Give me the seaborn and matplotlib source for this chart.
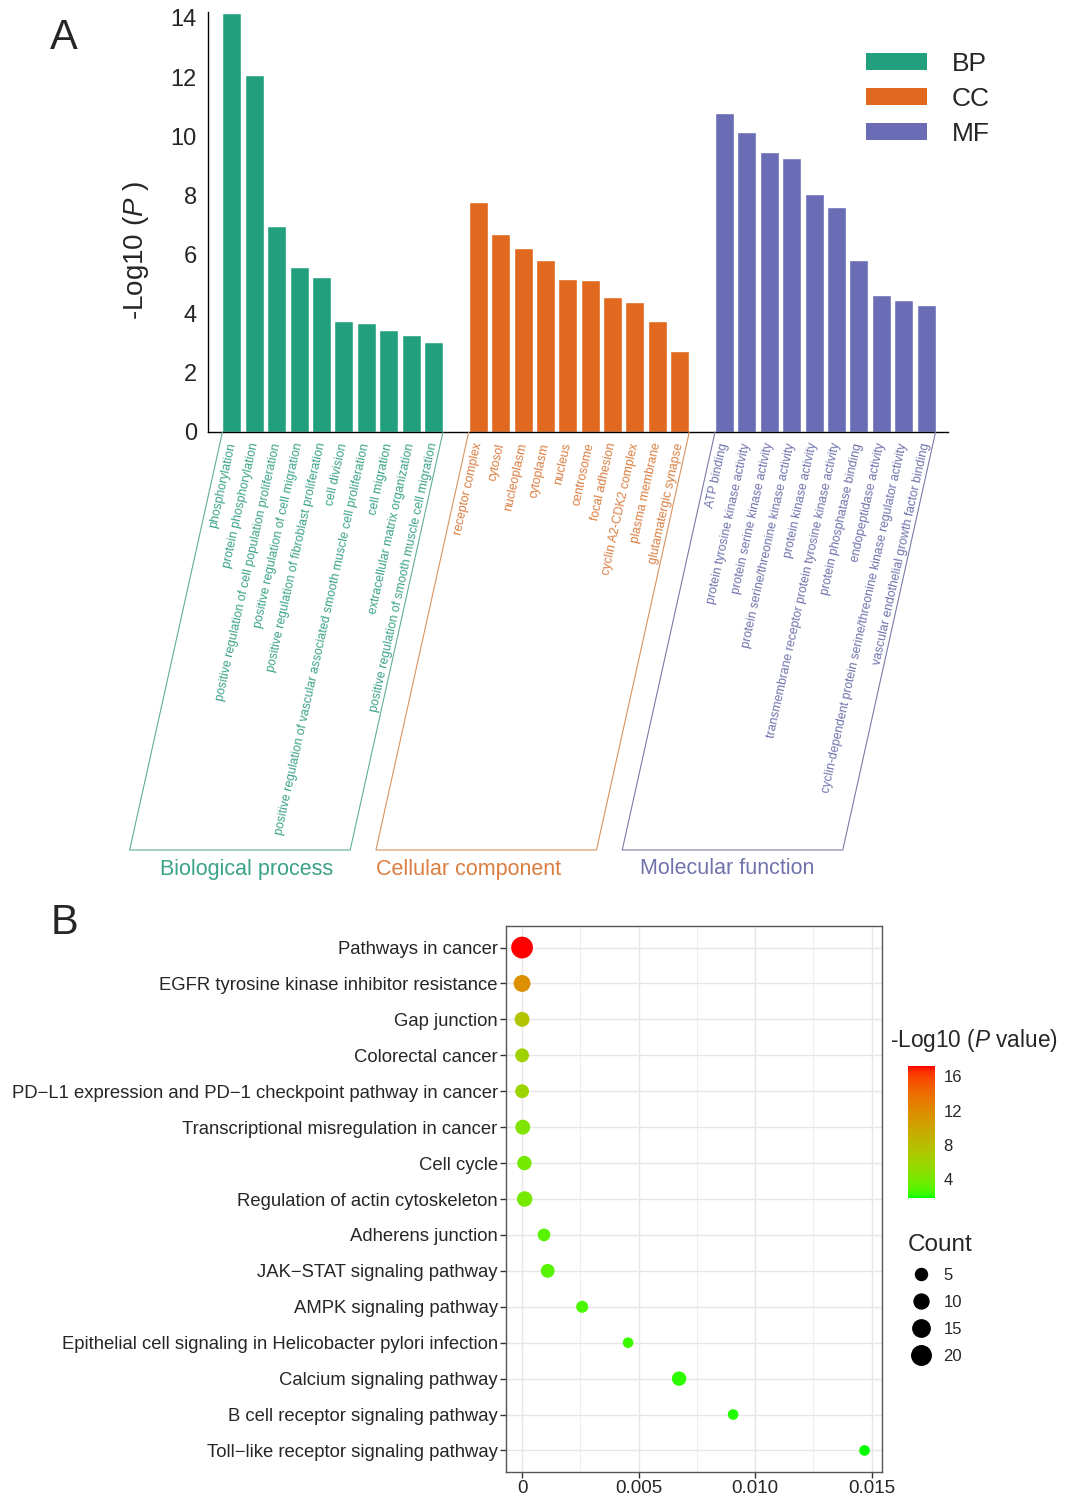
import numpy as np
import pandas as pd
import seaborn as sns
import matplotlib.pyplot as plt
import matplotlib.colors as mcolors
from matplotlib.patches import Patch
from matplotlib.lines import Line2D
from matplotlib.cm import ScalarMappable

sns.set_style('white')
plt.rcParams['font.family'] = ['Liberation Sans', 'DejaVu Sans']
plt.rcParams['mathtext.fontset'] = 'custom'
plt.rcParams['mathtext.rm'] = 'Liberation Sans'
plt.rcParams['mathtext.it'] = 'Liberation Sans:italic'

# ---- panel A data: GO enrichment, -log10(P) ----
bp_terms = ['phosphorylation', 'protein phosphorylation',
            'positive regulation of cell population proliferation',
            'positive regulation of cell migration',
            'positive regulation of fibroblast proliferation', 'cell division',
            'positive regulation of vascular associated smooth muscle cell proliferation',
            'cell migration', 'extracellular matrix organization',
            'positive regulation of smooth muscle cell migration']
bp_values = [14.16, 12.08, 6.97, 5.57, 5.24, 3.75, 3.68, 3.46, 3.28, 3.03]

cc_terms = ['receptor complex', 'cytosol', 'nucleoplasm', 'cytoplasm', 'nucleus',
            'centrosome', 'focal adhesion', 'cyclin A2-CDK2 complex',
            'plasma membrane', 'glutamatergic synapse']
cc_values = [7.77, 6.70, 6.21, 5.83, 5.18, 5.13, 4.56, 4.38, 3.74, 2.73]

mf_terms = ['ATP binding', 'protein tyrosine kinase activity',
            'protein serine kinase activity',
            'protein serine/threonine kinase activity', 'protein kinase activity',
            'transmembrane receptor protein tyrosine kinase activity',
            'protein phosphatase binding', 'endopeptidase activity',
            'cyclin-dependent protein serine/threonine kinase regulator activity',
            'vascular endothelial growth factor binding']
mf_values = [10.78, 10.15, 9.46, 9.28, 8.06, 7.62, 5.80, 4.62, 4.45, 4.31]

groups = ['BP', 'CC', 'MF']
group_names = ['Biological process', 'Cellular component', 'Molecular function']

# ---- panel B data: KEGG pathways ----
kegg_terms = ['Pathways in cancer', 'EGFR tyrosine kinase inhibitor resistance',
              'Gap junction', 'Colorectal cancer',
              'PD\u2212L1 expression and PD\u22121 checkpoint pathway in cancer',
              'Transcriptional misregulation in cancer', 'Cell cycle',
              'Regulation of actin cytoskeleton', 'Adherens junction',
              'JAK\u2212STAT signaling pathway', 'AMPK signaling pathway',
              'Epithelial cell signaling in Helicobacter pylori infection',
              'Calcium signaling pathway', 'B cell receptor signaling pathway',
              'Toll\u2212like receptor signaling pathway']
kegg_p = [6.3e-18, 2.0e-12, 3.2e-8, 7.9e-7, 1.3e-6, 3.0e-5, 1.0e-4, 1.1e-4,
          0.00094, 0.0011, 0.00258, 0.00455, 0.00674, 0.00906, 0.0147]
kegg_count = [26, 14, 10, 8, 8, 10, 9, 11, 6, 8, 5, 3, 9, 3, 3]

bar_colors = {'BP': '#22a07e', 'CC': '#e0681f', 'MF': '#6a6db6'}
text_colors = {'BP': '#3aa286', 'CC': '#da7d40', 'MF': '#6f72ab'}
box_colors = {'BP': '#62ae98', 'CC': '#d8935f', 'MF': '#7b7ca6'}

W, H = 1065, 1499
fig = plt.figure(figsize=(W / 100, H / 100), dpi=100)


def fx(px):
    return px / W


def fy(py):
    return 1 - py / H


# ---------------- panel A ----------------
rows = []
for gi, (g, terms, vals) in enumerate(zip(groups, [bp_terms, cc_terms, mf_terms],
                                          [bp_values, cc_values, mf_values])):
    for i, (t, v) in enumerate(zip(terms, vals)):
        rows.append({'pos': gi * (len(terms) + 1) + i, 'term': t, 'value': v, 'group': g})
dfA = pd.DataFrame(rows)

axA = fig.add_axes([fx(208), fy(432), fx(948) - fx(208), (432 - 12) / H])
sns.barplot(data=dfA, x='pos', y='value', hue='group', palette=bar_colors,
            native_scale=True, dodge=False, width=0.85, saturation=1,
            legend=False, ax=axA)
axA.set_xlim(-1.07, 31.98)
axA.set_ylim(0, 14.2)
axA.set_yticks(range(0, 15, 2))
axA.set_xticks(dfA['pos'])
axA.set_xticklabels(dfA['term'], rotation=77.5, ha='right', va='center',
                    rotation_mode='anchor', fontsize=8.8)
for lbl, g in zip(axA.get_xticklabels(), dfA['group']):
    lbl.set_color(text_colors[g])
axA.tick_params(axis='x', direction='out', length=4, width=1, color='black', pad=4)
axA.tick_params(axis='y', direction='out', length=5, width=1, color='black',
                labelsize=17, pad=3)
axA.set_xlabel('')
axA.set_ylabel('')
for s in ['top', 'right']:
    axA.spines[s].set_visible(False)
for s in ['left', 'bottom']:
    axA.spines[s].set_color('black')
    axA.spines[s].set_linewidth(1)

fig.text(fx(136), fy(250), '-Log10 ($\\it{P}$ )', rotation=90, fontsize=20,
         ha='center', va='center')
fig.text(fx(64), fy(38), 'A', fontsize=30, ha='center', va='center')

# slanted boxes under each group of labels
inv = fig.transFigure.inverted()
drop, shift = 418, 92.8
label_centres = [247, 469, 727]
for g, name, cx in zip(groups, group_names, label_centres):
    sub = dfA[dfA['group'] == g]
    xl, yl = axA.transData.transform((sub['pos'].min() - 0.425, 0))
    xr, yr = axA.transData.transform((sub['pos'].max() + 0.425, 0))
    pts = np.array([[xl, yl], [xl - shift, yl - drop], [xr - shift, yr - drop], [xr, yr]])
    pts = inv.transform(pts)
    fig.add_artist(Line2D(pts[:, 0], pts[:, 1], transform=fig.transFigure,
                          color=box_colors[g], lw=0.8))
    fig.text(fx(cx), fy(869), name, color=text_colors[g], fontsize=15.5,
             ha='center', va='center')

handles = [Patch(facecolor=bar_colors[g], edgecolor='none') for g in groups]
fig.legend(handles, groups, loc='upper left', bbox_to_anchor=(fx(866), fy(52)),
           frameon=False, fontsize=19, handlelength=2.3, handleheight=0.62,
           handletextpad=0.95, labelspacing=0.42, borderpad=0, borderaxespad=0)

# ---------------- panel B ----------------


def to_lab(c):
    rgb = np.array(mcolors.to_rgb(c))
    lin = np.where(rgb <= 0.04045, rgb / 12.92, ((rgb + 0.055) / 1.055) ** 2.4)
    xyz = M_RGB @ lin / WHITE
    f = np.where(xyz > 0.008856, np.cbrt(xyz), 7.787 * xyz + 16 / 116)
    return np.array([116 * f[1] - 16, 500 * (f[0] - f[1]), 200 * (f[1] - f[2])])


def from_lab(lab):
    L, a, b = lab
    f_y = (L + 16) / 116
    f = np.array([f_y + a / 500, f_y, f_y - b / 200])
    xyz = np.where(f ** 3 > 0.008856, f ** 3, (f - 16 / 116) / 7.787) * WHITE
    lin = np.linalg.solve(M_RGB, xyz)
    lin = np.clip(lin, 0, 1)
    return np.where(lin <= 0.0031308, 12.92 * lin, 1.055 * lin ** (1 / 2.4) - 0.055)


M_RGB = np.array([[0.4124564, 0.3575761, 0.1804375],
                  [0.2126729, 0.7151522, 0.0721750],
                  [0.0193339, 0.1191920, 0.9503041]])
WHITE = np.array([0.95047, 1.0, 1.08883])
lab_lo, lab_hi = to_lab('#00ff00'), to_lab('#ff0000')
cmap = mcolors.ListedColormap([np.clip(from_lab(lab_lo + t * (lab_hi - lab_lo)), 0, 1)
                               for t in np.linspace(0, 1, 256)])

dfB = pd.DataFrame({'term': kegg_terms, 'p': kegg_p, 'count': kegg_count})
dfB['logp'] = -np.log10(dfB['p'])


def count_area(c):
    return 34.3 + 8.13 * np.asarray(c, dtype=float)


cmin, cmax = dfB['count'].min(), dfB['count'].max()
lmin, lmax = dfB['logp'].min(), dfB['logp'].max()

axB = fig.add_axes([fx(506), fy(1472), fx(882) - fx(506), (1472 - 926) / H])
axB.set_axisbelow(True)
sns.scatterplot(data=dfB, x='p', y='term', hue='logp', size='count',
                palette=cmap, hue_norm=(lmin, lmax),
                sizes=(float(count_area(cmin)), float(count_area(cmax))),
                size_norm=(cmin, cmax), linewidth=0, alpha=1, legend=False,
                zorder=3, ax=axB)
axB.set_xlim(-0.00069, 0.01545)
axB.set_ylim(len(kegg_terms) - 0.4, -0.6)
axB.set_xticks([0, 0.005, 0.010, 0.015])
axB.set_xticklabels(['0', '0.005', '0.010', '0.015'])
axB.set_xticks([0.0025, 0.0075, 0.0125], minor=True)
axB.grid(which='major', color='#e6e6e6', lw=1.0)
axB.grid(which='minor', axis='x', color='#efefef', lw=0.8)
axB.tick_params(axis='y', which='major', length=4, width=1, color='#333333',
                labelsize=13.3, pad=2, left=True)
axB.tick_params(axis='x', which='major', length=4, width=1, color='#333333',
                labelsize=13.5, pad=2, bottom=True)
axB.tick_params(axis='x', which='minor', length=0)
axB.set_xlabel('')
axB.set_ylabel('')
for s in axB.spines.values():
    s.set_color('#555555')
    s.set_linewidth(1)

fig.text(fx(64), fy(923), 'B', fontsize=30, ha='center', va='center')

cax = fig.add_axes([fx(908), fy(1198), 27 / W, 132 / H])
cb = fig.colorbar(ScalarMappable(norm=mcolors.Normalize(lmin, lmax), cmap=cmap),
                  cax=cax, ticks=[4, 8, 12, 16])
cb.outline.set_visible(False)
cax.tick_params(which='major', direction='in', color='white', length=5, width=1,
                left=True, right=True, labelsize=12, pad=6)
cax.minorticks_off()
fig.text(fx(890), fy(1040), '-Log10 ($\\it{P}$ value)', fontsize=16.3,
         ha='left', va='center')

fig.text(fx(908), fy(1245), 'Count', fontsize=17.5, ha='left', va='center')
size_levels = [5, 10, 15, 20]
size_handles = [Line2D([0], [0], marker='o', ls='', color='black',
                       markersize=float(np.sqrt(count_area(c)))) for c in size_levels]
fig.legend(size_handles, [str(c) for c in size_levels], loc='upper left',
           bbox_to_anchor=(fx(911), fy(1268)), frameon=False, fontsize=12,
           handlelength=1.2, handletextpad=0.75, labelspacing=0.72,
           borderpad=0, borderaxespad=0)

fig.savefig('out.png', dpi=100)
